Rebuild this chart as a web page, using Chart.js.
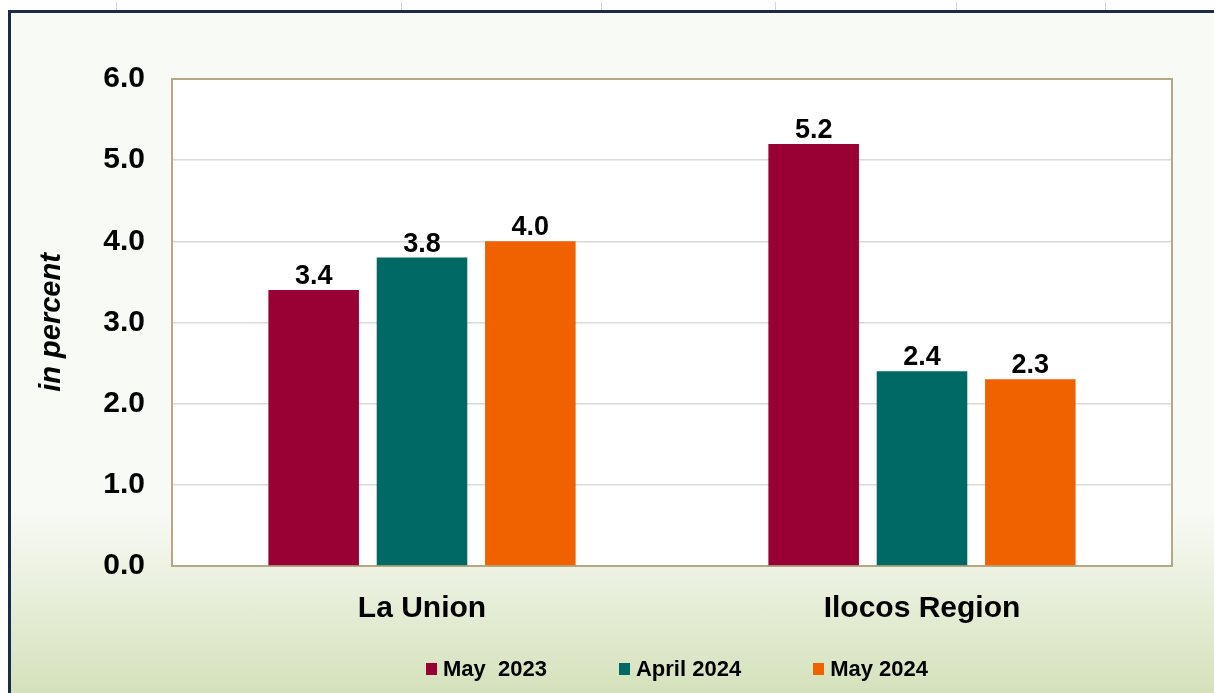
<!DOCTYPE html>
<html>
<head>
<meta charset="utf-8">
<script src="https://cdn.jsdelivr.net/npm/chart.js@4.4.1/dist/chart.umd.min.js"></script>
<style>
  body { margin: 0; width: 1214px; height: 693px; overflow: hidden; background: #fff; position: relative;
         font-family: "Liberation Sans", Arial, sans-serif; }
  #frame { position: absolute; left: 8px; top: 10px; width: 1220px; height: 690px;
           border: 3px solid #1c2b4a;
           background: linear-gradient(to bottom, #f8faf5 0%, #f8faf5 72%, #d3e0b8 100%); }
  .tick { position: absolute; top: 2px; width: 1px; height: 8px; background: #d4d4d4; }
  #myChart { position: absolute; left: 0; top: 0; }
  #legend { position: absolute; left: 426px; top: 658px; display: flex; white-space: pre; }
  #legend .item { display: flex; align-items: center; margin-right: 72px; font-size: 22px; font-weight: bold; line-height: 22px; color: #000; }
  #legend .box { display: inline-block; width: 11px; height: 12px; margin-right: 6px; }
</style>
</head>
<body>
<div id="frame"></div>
<div class="tick" style="left:116px"></div>
<div class="tick" style="left:401px"></div>
<div class="tick" style="left:601px"></div>
<div class="tick" style="left:775px"></div>
<div class="tick" style="left:956px"></div>
<div class="tick" style="left:1105px"></div>
<canvas id="myChart" width="1214" height="693"></canvas>
<div id="legend"></div>

<script>
//DATA
var categories = ["La Union", "Ilocos Region"];
var seriesLabels = ["May  2023", "April 2024", "May 2024"];
var may2023 = [3.4, 5.2];
var april2024 = [3.8, 2.4];
var may2024 = [4.0, 2.3];
var yTicks = [0, 1, 2, 3, 4, 5, 6];
var colors = ["#990033", "#006965", "#f06100"];

var FONT = "'Liberation Sans', Arial, sans-serif";

//plot background + border
var plotArea = {
  id: "plotArea",
  beforeDraw: function(chart) {
    var a = chart.chartArea, ctx = chart.ctx;
    ctx.save();
    ctx.fillStyle = "#ffffff";
    ctx.fillRect(a.left, a.top, a.right - a.left, a.bottom - a.top);
    ctx.restore();
  },
  beforeDatasetsDraw: function(chart) {
    var a = chart.chartArea, ctx = chart.ctx;
    ctx.save();
    ctx.strokeStyle = "#b3aa83";
    ctx.lineWidth = 2;
    ctx.strokeRect(a.left, a.top, a.right - a.left, a.bottom - a.top);
    ctx.restore();
  }
};

//value labels on top of bars
var valueLabels = {
  id: "valueLabels",
  afterDatasetsDraw: function(chart) {
    var ctx = chart.ctx;
    ctx.save();
    ctx.font = "bold 27px " + FONT;
    ctx.fillStyle = "#000";
    ctx.textAlign = "center";
    ctx.textBaseline = "alphabetic";
    chart.data.datasets.forEach(function(ds, i) {
      chart.getDatasetMeta(i).data.forEach(function(bar, j) {
        ctx.fillText(ds.data[j].toFixed(1), bar.x, bar.y - 6);
      });
    });
    ctx.restore();
  }
};

var chart = new Chart(document.getElementById("myChart"), {
  type: "bar",
  data: {
    labels: categories,
    datasets: [
      { label: seriesLabels[0], data: may2023, backgroundColor: colors[0] },
      { label: seriesLabels[1], data: april2024, backgroundColor: colors[1] },
      { label: seriesLabels[2], data: may2024, backgroundColor: colors[2] }
    ]
  },
  options: {
    responsive: false,
    animation: false,
    devicePixelRatio: 1,
    categoryPercentage: 0.65,
    barPercentage: 0.836,
    layout: { padding: { top: 79, right: 42, bottom: 0, left: 0 } },
    plugins: {
      legend: { display: false },
      tooltip: { enabled: false }
    },
    scales: {
      x: {
        grid: { display: false },
        border: { display: false },
        ticks: { color: "#000", padding: 17, font: { family: FONT, size: 30, weight: "bold" } },
        afterFit: function(s) { s.height = 127; }
      },
      y: {
        min: 0,
        max: 6,
        afterBuildTicks: function(s) { s.ticks = yTicks.map(function(v) { return { value: v }; }); },
        grid: { color: "#d9d9d9", lineWidth: 1.5, drawTicks: false },
        border: { display: false },
        ticks: {
          color: "#000", padding: 27,
          font: { family: FONT, size: 30, weight: "bold" },
          callback: function(v) { return v.toFixed(1); }
        },
        title: {
          display: true,
          text: "in percent",
          color: "#000",
          padding: { top: 35, bottom: 0 },
          font: { family: FONT, size: 29, weight: "bold", style: "italic" }
        },
        afterFit: function(s) { s.width = 172; }
      }
    }
  },
  plugins: [plotArea, valueLabels]
});

//HTML legend
var legend = document.getElementById("legend");
chart.data.datasets.forEach(function(ds) {
  var item = document.createElement("span");
  item.className = "item";
  var box = document.createElement("span");
  box.className = "box";
  box.style.background = ds.backgroundColor;
  item.appendChild(box);
  item.appendChild(document.createTextNode(ds.label));
  legend.appendChild(item);
});
</script>
</body>
</html>
